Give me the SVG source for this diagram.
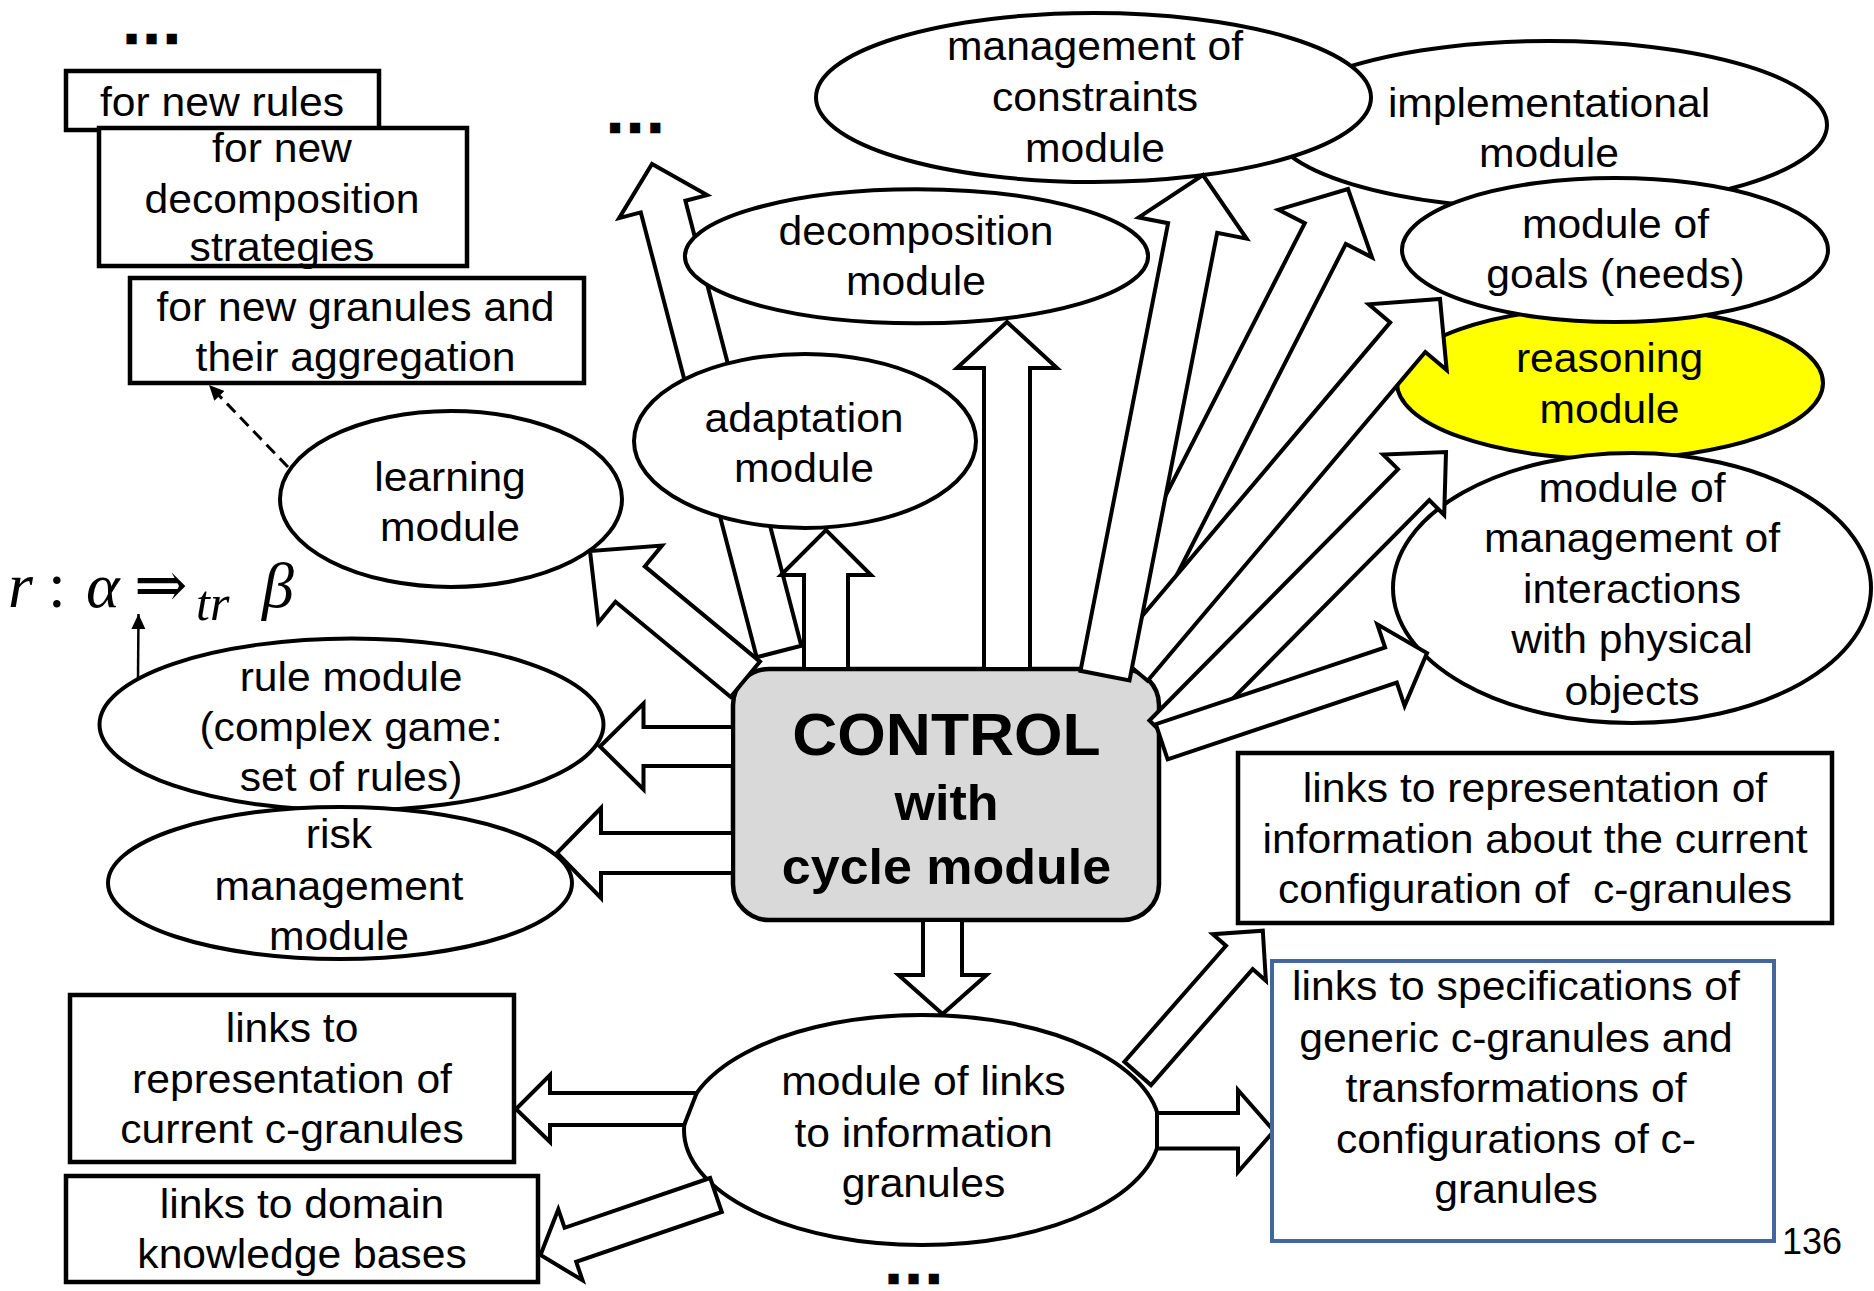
<svg xmlns="http://www.w3.org/2000/svg" width="1874" height="1291" viewBox="0 0 1874 1291">
<defs>
<style>
.node{fill:#fff;stroke:#000;stroke-width:4}
.box{fill:#fff;stroke:#000;stroke-width:4.5}
.blue{fill:#fff;stroke:#41679B;stroke-width:4}
.ctrl{fill:#D9D9D9;stroke:#000;stroke-width:4.5}
.yel{fill:#FFFF00;stroke:#000;stroke-width:4}
.blk{fill:#fff;stroke:#000;stroke-width:4;stroke-linejoin:miter}
.t{font-family:"Liberation Sans",Arial,sans-serif;font-size:41px;text-anchor:middle;fill:#000}
.tb{font-family:"Liberation Sans",Arial,sans-serif;font-weight:bold;text-anchor:middle;fill:#000}
.dots{font-family:"Liberation Sans",Arial,sans-serif;font-weight:bold;font-size:40px;letter-spacing:9px;fill:#000;stroke:#000;stroke-width:4.5;stroke-linejoin:miter}
.num{font-family:"Liberation Sans",Arial,sans-serif;font-size:36px;fill:#000}
.math{font-family:"Liberation Serif","Times New Roman",serif;font-size:64px;fill:#000}
.thin{fill:none;stroke:#000;stroke-width:2.5}
.dash{fill:none;stroke:#000;stroke-width:3;stroke-dasharray:12 7}
</style>
<marker id="head" markerUnits="userSpaceOnUse" markerWidth="16" markerHeight="16" refX="15" refY="7" orient="auto">
<path d="M0,0 L15,7 L0,14 z" fill="#000"/>
</marker>
</defs>
<rect width="1874" height="1291" fill="#fff"/>

<!-- nodes lying underneath the block arrows -->
<g id="implementational">
<ellipse class="node" cx="1549" cy="125" rx="278" ry="84"/>
<text class="t" transform="translate(1549 0) scale(1.04 1)"><tspan x="0" y="117">implementational</tspan><tspan x="0" y="167">module</tspan></text>
</g>
<g id="constraints">
<ellipse class="node" cx="1093.5" cy="97.5" rx="277.5" ry="84.5"/>
<text class="t" transform="translate(1095 0) scale(1.04 1)"><tspan x="0" y="60">management of</tspan><tspan x="0" y="111">constraints</tspan><tspan x="0" y="162">module</tspan></text>
</g>
<g id="reasoning">
<ellipse class="yel" cx="1610" cy="383" rx="213" ry="76"/>
<text class="t" transform="translate(1609.5 0) scale(1.04 1)"><tspan x="0" y="372">reasoning</tspan><tspan x="0" y="423">module</tspan></text>
</g>
<g id="goals">
<ellipse class="node" cx="1615" cy="250" rx="213" ry="72"/>
<text class="t" transform="translate(1615.5 0) scale(1.04 1)"><tspan x="0" y="238">module of</tspan><tspan x="0" y="288">goals (needs)</tspan></text>
</g>
<g id="physical">
<ellipse class="node" cx="1632" cy="588" rx="239" ry="135"/>
<text class="t" transform="translate(1632 0) scale(1.04 1)"><tspan x="0" y="502">module of</tspan><tspan x="0" y="552">management of</tspan><tspan x="0" y="603">interactions</tspan><tspan x="0" y="653">with physical</tspan><tspan x="0" y="705">objects</tspan></text>
</g>
<g id="links-module">
<ellipse class="node" cx="922" cy="1130" rx="238" ry="115"/>
<text class="t" transform="translate(923.5 0) scale(1.04 1)"><tspan x="0" y="1095">module of links</tspan><tspan x="0" y="1147">to information</tspan><tspan x="0" y="1197">granules</tspan></text>
</g>
<g id="control">
<rect class="ctrl" x="733" y="669" width="426" height="251" rx="36" ry="36"/>
<text class="tb" transform="translate(946.5 0) scale(1.04 1)"><tspan x="0" y="755" font-size="60">CONTROL</tspan><tspan x="0" y="820" font-size="50">with</tspan><tspan x="0" y="884" font-size="50">cycle module</tspan></text>
</g>

<!-- block arrows and thin connectors -->
<g id="connectors">
<polygon class="blk" points="801.3,645.7 685.4,200.8 707.1,195.1 652,164 619.1,218.1 640.8,212.4 756.7,657.3"/>
<polygon class="blk" points="760,661.6 644.8,566.4 662,545.6 590,551 598.3,622.7 615.5,601.8 730.7,697"/>
<polygon class="blk" points="804,669 804,575 781,575 826,530 871,575 848,575 848,669"/>
<polygon class="blk" points="984,669 984,368 957,368 1007,322 1057,368 1030,368 1030,669"/>
<polygon class="blk" points="1125.5,675.5 1345.8,244 1372,257.4 1348,189 1278.5,209.7 1304.8,223.1 1084.5,654.5"/>
<polygon class="blk" points="1147.6,680.8 1425.3,352 1446.7,370.1 1440,299 1368.8,304.3 1390.2,322.4 1112.4,651.2"/>
<polygon class="blk" points="1129.5,680.4 1217.2,232.8 1246.6,238.6 1203,175 1138.7,217.4 1168.1,223.2 1080.5,670.8"/>
<polygon class="blk" points="1180.6,751.5 1429.3,500.2 1444.2,515 1446,452 1383.1,454.5 1398,469.2 1149.4,720.5"/>
<polygon class="blk" points="1167.6,759.3 1396.8,682.6 1404.6,705.8 1427,653 1377.3,624.3 1385.1,647.5 1155.8,724.2"/>
<polygon class="blk" points="733,727 643.5,727 643.5,703.5 600,746.5 643.5,789.5 643.5,766 733,766"/>
<polygon class="blk" points="733,833 601,833 601,808 557,853 601,898 601,873 733,873"/>
<polygon class="blk" points="923,920 923,975 898.5,975 942.5,1014 986.5,975 962,975 962,920"/>
<polygon class="blk" points="696.7,1093 550,1093 550,1075 516,1109 550,1142 550,1125 684.2,1125"/>
<polygon class="blk" points="1157,1113 1238,1113 1238,1090 1274,1131 1238,1172 1238,1148.5 1157,1148.5"/>
<polygon class="blk" points="1151,1085.1 1252.7,969.1 1265.9,980.7 1262.8,930.7 1212.8,934.2 1226,945.8 1124.4,1061.7"/>
<polygon class="blk" points="710.2,1178 564.6,1227.8 558.3,1209.3 540.5,1255 582.5,1280.3 576.2,1261.8 721.8,1212"/>
<line class="thin" x1="138" y1="678" x2="138.5" y2="614" marker-end="url(#head)"/>
<line class="dash" x1="288" y1="467" x2="209" y2="385" marker-end="url(#head)"/>
</g>

<!-- nodes drawn over the arrows -->
<g id="adaptation">
<ellipse class="node" cx="805" cy="441" rx="171" ry="87"/>
<text class="t" transform="translate(804 0) scale(1.04 1)"><tspan x="0" y="432">adaptation</tspan><tspan x="0" y="482">module</tspan></text>
</g>
<g id="decomposition">
<ellipse class="node" cx="916.5" cy="256.3" rx="231.6" ry="67"/>
<text class="t" transform="translate(916 0) scale(1.04 1)"><tspan x="0" y="245">decomposition</tspan><tspan x="0" y="295">module</tspan></text>
</g>
<g id="learning">
<ellipse class="node" cx="451" cy="499" rx="171" ry="88"/>
<text class="t" transform="translate(450 0) scale(1.04 1)"><tspan x="0" y="491">learning</tspan><tspan x="0" y="541">module</tspan></text>
</g>
<g id="rule">
<ellipse class="node" cx="351.5" cy="724.6" rx="252" ry="86"/>
<text class="t" transform="translate(351 0) scale(1.04 1)"><tspan x="0" y="691">rule module</tspan><tspan x="0" y="741">(complex game:</tspan><tspan x="0" y="791">set of rules)</tspan></text>
</g>
<g id="risk">
<ellipse class="node" cx="340" cy="883" rx="232" ry="76"/>
<text class="t" transform="translate(339 0) scale(1.04 1)"><tspan x="0" y="848">risk</tspan><tspan x="0" y="900">management</tspan><tspan x="0" y="950">module</tspan></text>
</g>
<g id="new-rules">
<rect class="box" x="66" y="71" width="313" height="59"/>
<text class="t" transform="translate(222 0) scale(1.04 1)" y="116">for new rules</text>
</g>
<g id="new-strategies">
<rect class="box" x="99" y="128" width="368" height="138"/>
<text class="t" transform="translate(282 0) scale(1.04 1)"><tspan x="0" y="161.7">for new</tspan><tspan x="0" y="212.7">decomposition</tspan><tspan x="0" y="261">strategies</tspan></text>
</g>
<g id="new-granules">
<rect class="box" x="130" y="278" width="454" height="105"/>
<text class="t" transform="translate(355.5 0) scale(1.04 1)"><tspan x="0" y="321">for new granules and</tspan><tspan x="0" y="371">their aggregation</tspan></text>
</g>
<g id="current-configuration">
<rect class="box" x="1238" y="753" width="594" height="170"/>
<text class="t" transform="translate(1535 0) scale(1.04 1)"><tspan x="0" y="802">links to representation of</tspan><tspan x="0" y="853">information about the current</tspan></text>
<text class="t" transform="translate(1535 0) scale(1.04 1)" y="903" xml:space="preserve" style="white-space:pre">configuration of  c-granules</text>
</g>
<g id="specifications">
<rect class="blue" x="1272" y="961" width="502" height="280"/>
<text class="t" transform="translate(1516 0) scale(1.04 1)"><tspan x="0" y="1000">links to specifications of</tspan><tspan x="0" y="1052">generic c-granules and</tspan><tspan x="0" y="1102">transformations of</tspan><tspan x="0" y="1153">configurations of c-</tspan><tspan x="0" y="1203">granules</tspan></text>
</g>
<g id="current-granules">
<rect class="box" x="70" y="995" width="444" height="167"/>
<text class="t" transform="translate(292 0) scale(1.04 1)"><tspan x="0" y="1042">links to</tspan><tspan x="0" y="1093">representation of</tspan><tspan x="0" y="1143">current c-granules</tspan></text>
</g>
<g id="domain-knowledge">
<rect class="box" x="66" y="1176" width="472" height="106"/>
<text class="t" transform="translate(302 0) scale(1.04 1)"><tspan x="0" y="1218">links to domain</tspan><tspan x="0" y="1268">knowledge bases</tspan></text>
</g>

<!-- ellipsis marks, rule formula, page number -->
<g id="more-top-left"><text class="dots" x="126" y="42">...</text></g>
<g id="more-top"><text class="dots" x="609.5" y="131">...</text></g>
<g id="more-bottom"><text class="dots" x="888" y="1282">...</text></g>
<g id="formula">
<text class="math" y="607"><tspan x="8" font-style="italic">r</tspan><tspan x="48">:</tspan><tspan x="86" font-style="italic">α</tspan><tspan x="134" font-family="'DejaVu Serif',serif" font-size="64">⇒</tspan><tspan x="196" y="620" font-size="50" font-style="italic">tr</tspan><tspan x="262" y="607" font-style="italic">β</tspan></text>
</g>
<g id="page-number"><text class="num" x="1782" y="1254">136</text></g>
</svg>
